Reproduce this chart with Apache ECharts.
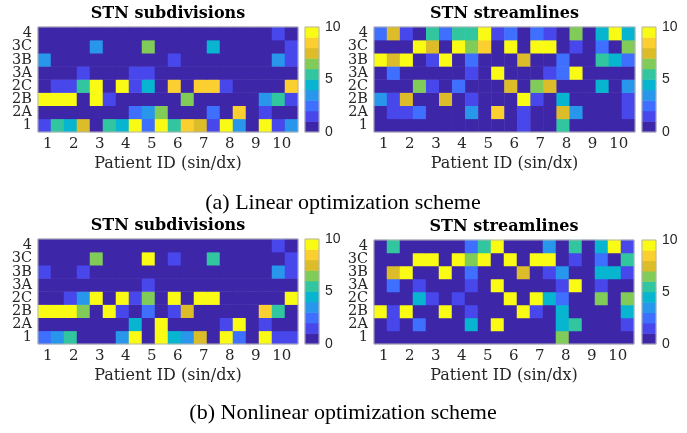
<!DOCTYPE html>
<html>
<head>
<meta charset="utf-8">
<script src="https://cdn.jsdelivr.net/npm/echarts@6/dist/echarts.min.js"></script>
<style>
  html, body { margin: 0; background: #fff; }
  #chart { width: 687px; height: 433px; }
</style>
</head>
<body>
<div id="chart"></div>
<script>
// rows from bottom ("1") to top ("4"), 20 columns = patient 1..10, sin/dx
const rowLabels = ['1', '2A', '2B', '2C', '3A', '3B', '3C', '4']
const patientLabels = ['1', '2', '3', '4', '5', '6', '7', '8', '9', '10']
const cbTicks = [0, 5, 10]
// parula, 10 levels
const palette = ['#3e26a8', '#4747eb', '#3e6fff', '#2796eb', '#08b5d0',
  '#31c69f', '#81cc59', '#dcbd29', '#fccf30', '#f9fb15']

// values are colour level 0..9
const linSub = [
  [1,5,4,7,0,5,4,9,2,9,5,8,7,1,9,3,0,9,1,3],
  [0,0,0,0,0,0,0,2,3,6,0,0,0,2,0,8,0,1,0,0],
  [9,9,9,0,9,1,0,0,0,0,0,6,0,0,0,0,0,3,5,1],
  [0,1,1,5,9,0,9,1,4,0,8,0,8,8,1,0,0,0,0,8],
  [0,0,0,1,0,0,0,1,1,0,0,0,0,0,0,0,0,0,0,0],
  [3,0,0,0,0,0,0,0,0,0,1,0,0,0,0,0,0,0,3,1],
  [0,0,0,0,3,0,0,0,6,0,0,0,0,4,0,0,0,0,0,1],
  [0,0,0,0,0,0,0,0,0,0,0,0,0,0,0,0,0,0,1,0]
]
const linStr = [
  [0,0,0,0,0,0,0,0,0,0,0,1,0,0,5,0,0,0,0,0],
  [0,1,1,2,0,0,0,3,0,8,0,1,0,0,7,3,0,0,0,1],
  [3,1,7,0,0,7,0,1,0,0,0,9,1,0,4,0,0,0,0,1],
  [0,0,0,6,1,0,2,0,0,0,7,0,6,7,0,0,0,4,0,3],
  [0,2,0,0,0,0,0,1,0,9,0,0,0,1,2,9,0,0,0,0],
  [9,7,9,0,1,9,0,2,0,0,0,7,0,0,2,0,0,5,4,2],
  [0,0,0,9,7,0,9,6,8,0,9,0,9,9,0,1,0,2,0,6],
  [2,7,1,0,5,2,5,5,9,1,2,0,2,1,0,6,0,4,9,4]
]
const nonSub = [
  [2,3,5,0,0,0,3,9,0,9,4,3,7,0,9,2,0,9,1,1],
  [0,0,0,0,0,0,0,4,0,9,0,0,0,0,1,9,0,1,0,0],
  [9,9,9,6,0,9,1,0,2,0,1,7,0,0,0,0,0,8,5,0],
  [0,0,1,3,9,0,9,1,6,0,9,0,9,9,0,0,0,0,0,9],
  [0,0,0,0,0,0,0,0,1,0,0,0,0,0,0,0,0,0,0,0],
  [1,0,0,1,0,0,0,0,0,0,0,0,0,0,0,0,0,0,3,1],
  [0,0,0,0,6,0,0,0,9,0,1,0,0,5,0,0,0,0,0,1],
  [0,0,0,0,0,0,0,0,0,0,0,0,0,0,0,0,0,0,1,0]
]
const nonStr = [
  [0,0,0,0,0,0,0,0,0,0,0,0,0,0,6,0,0,0,0,0],
  [0,1,0,2,0,0,0,4,0,9,0,0,0,0,4,5,0,0,0,1],
  [9,1,9,0,0,9,0,1,0,0,0,9,1,0,4,0,0,0,0,4],
  [0,0,0,4,1,0,1,0,0,0,9,0,9,4,2,0,0,6,0,6],
  [0,2,0,1,0,0,0,1,0,9,0,0,0,0,1,9,0,1,0,0],
  [0,7,9,0,0,9,0,2,0,0,0,7,0,1,3,0,0,4,4,1],
  [0,0,0,9,9,0,9,6,9,0,9,0,9,9,0,1,0,2,0,5],
  [0,5,0,0,0,0,0,2,5,9,0,0,0,3,0,5,0,4,9,1]
]

const panels = [
  { m: linSub, title: 'STN subdivisions', g: [38, 27, 260, 105], cb: [305, 27, 14, 105] },
  { m: linStr, title: 'STN streamlines', g: [374, 27, 261, 105], cb: [642, 27, 14, 105] },
  { m: nonSub, title: 'STN subdivisions', g: [38, 239, 260, 105], cb: [305, 239, 14, 105] },
  { m: nonStr, title: 'STN streamlines', g: [374, 240, 260, 104], cb: [642, 240, 14, 104] }
]

const serif = 'DejaVu Serif'
const ink = '#262626'
const cols = Array.from({ length: 20 }, (_, i) => i)
const levelIdx = palette.map((_, i) => i)
// ticks sit a little left of the sin/dx border, like the figure
const tickPos = patientLabels.map((_, i) => 2 * i + 0.75)

let chart = echarts.init(document.getElementById('chart'))

let grid = [], xAxis = [], yAxis = [], series = [], graphic = []
panels.forEach((p, k) => {
  grid.push({ left: p.g[0], top: p.g[1], width: p.g[2], height: p.g[3],
    show: true, borderColor: '#b4b4b4', borderWidth: 1, backgroundColor: 'rgba(0,0,0,0)', z: 5 })
  grid.push({ left: p.cb[0], top: p.cb[1], width: p.cb[2], height: p.cb[3],
    show: true, borderColor: '#b4b4b4', borderWidth: 1, backgroundColor: 'rgba(0,0,0,0)', z: 5 })

  xAxis.push({ type: 'category', gridIndex: 2 * k, position: 'top', data: cols,
    axisLine: { show: false }, axisLabel: { show: false },
    axisTick: { inside: true, length: 3, customValues: tickPos.map(v => v - 0.5), lineStyle: { color: ink } }, z: 6 })
  xAxis.push({ type: 'value', gridIndex: 2 * k, position: 'bottom', min: 0, max: 20,
    splitLine: { show: false }, axisLine: { show: false },
    axisTick: { inside: true, length: 3, customValues: tickPos, lineStyle: { color: ink } },
    axisLabel: { customValues: tickPos, margin: 5, color: ink, fontFamily: serif, fontSize: 15,
      formatter: v => patientLabels[Math.round((v - 0.75) / 2)] },
    name: 'Patient ID (sin/dx)', nameLocation: 'middle', nameGap: 24,
    nameTextStyle: { fontFamily: serif, fontSize: 16, color: ink }, z: 6 })
  xAxis.push({ type: 'category', gridIndex: 2 * k + 1, data: ['c'], show: false })

  yAxis.push({ type: 'category', gridIndex: 2 * k, data: rowLabels,
    axisLine: { show: false },
    axisTick: { inside: true, length: 3, alignWithLabel: true, lineStyle: { color: ink } },
    axisLabel: { interval: 0, margin: 6, color: ink, fontFamily: serif, fontSize: 14.5, lineHeight: 13 }, z: 6 })
  yAxis.push({ type: 'category', gridIndex: 2 * k, position: 'right', data: rowLabels,
    axisLine: { show: false }, axisLabel: { show: false },
    axisTick: { inside: true, length: 3, alignWithLabel: true, lineStyle: { color: ink } }, z: 6 })
  yAxis.push({ type: 'category', gridIndex: 2 * k + 1, data: levelIdx, show: false })
  yAxis.push({ type: 'value', gridIndex: 2 * k + 1, position: 'right', min: 0, max: 10, interval: 5,
    splitLine: { show: false }, axisLine: { show: false },
    axisTick: { inside: true, length: 2, lineStyle: { color: ink } },
    axisLabel: { margin: 6, color: ink, fontFamily: 'Liberation Sans', fontSize: 14 }, z: 6 })

  series.push({ type: 'heatmap', xAxisIndex: 3 * k, yAxisIndex: 4 * k,
    data: p.m.flatMap((row, r) => row.map((v, c) => [c, r, v])),
    emphasis: { disabled: true } })
  series.push({ type: 'heatmap', xAxisIndex: 3 * k + 2, yAxisIndex: 4 * k + 2,
    data: levelIdx.map(i => [0, i, i]), emphasis: { disabled: true } })

  graphic.push({ type: 'text', x: p.g[0] + p.g[2] / 2, y: p.g[1] - 13,
    style: { text: p.title, textAlign: 'center', textVerticalAlign: 'middle',
      font: 'bold 16px "DejaVu Serif"', fill: '#000' } })
})

graphic.push({ type: 'text', x: 343, y: 203,
  style: { text: '(a) Linear optimization scheme', textAlign: 'center', textVerticalAlign: 'middle',
    font: '22px "Liberation Serif"', fill: '#000' } })
graphic.push({ type: 'text', x: 343, y: 413,
  style: { text: '(b) Nonlinear optimization scheme', textAlign: 'center', textVerticalAlign: 'middle',
    font: '22px "Liberation Serif"', fill: '#000' } })

let option = {
  animation: false,
  backgroundColor: '#fff',
  grid: grid,
  xAxis: xAxis,
  yAxis: yAxis,
  visualMap: {
    type: 'piecewise', show: false, dimension: 2,
    seriesIndex: series.map((_, i) => i),
    pieces: palette.map((c, i) => ({ value: i, color: c }))
  },
  series: series,
  graphic: graphic
}
chart.setOption(option)
</script>
</body>
</html>
